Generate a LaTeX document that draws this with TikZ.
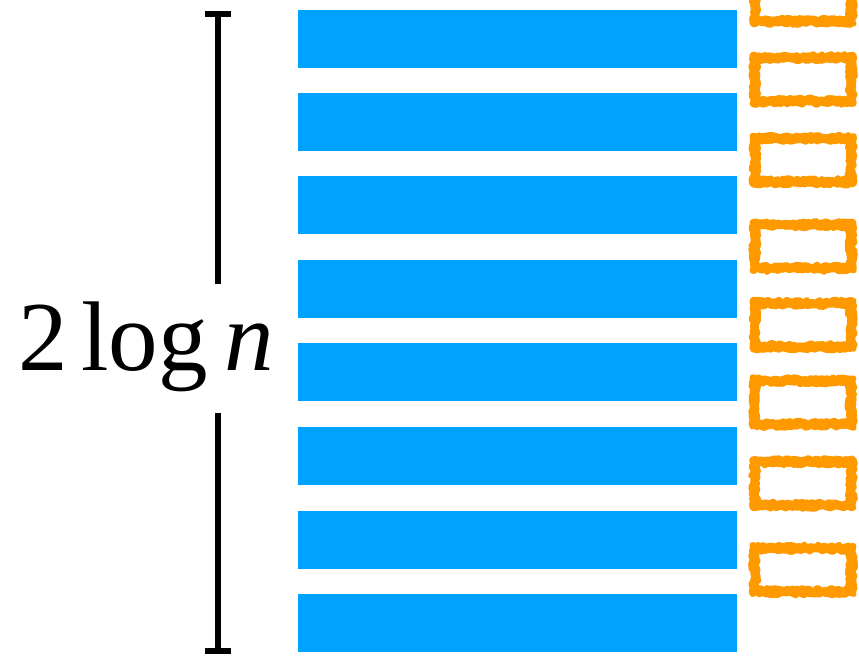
\documentclass[tikz,border=0pt]{standalone}
\usepackage{fontspec}
\setmainfont{Liberation Serif}
\usetikzlibrary{decorations.pathmorphing}
\definecolor{barblue}{RGB}{0,162,255}
\definecolor{orng}{RGB}{255,153,0}
\tikzset{
  bar/.style={fill=barblue, draw=none, inner sep=0pt, minimum width=439pt, minimum height=58pt, anchor=north west},
  slot/.style={draw=none, inner sep=0pt, minimum width=108pt, minimum height=55pt},
  roughstroke/.style={draw=orng, line width=5.5pt, line join=round, line cap=round, decorate, decoration={random steps, segment length=2.5pt, amplitude=1.4pt}},
  brace/.style={draw=black, line width=5.5pt}
}
\begin{document}
\begin{tikzpicture}[x=1pt,y=-1pt]
\useasboundingbox (0,0) rectangle (859,656);
\pgfmathsetseed{7}
% blue bars
\foreach \i/\t in {1/10,2/93,3/176,4/260,5/343,6/427,7/511,8/594}{
  \node[bar] (b\i) at (298,\t) {};
}
% orange rough boxes
\foreach \i/\c in {1/-0.5,2/79.5,3/160,4/246.5,5/325,6/402.5,7/483.5,8/570}{
  \node[slot] (o\i) at (803,\c) {};
  \foreach \d in {3.5,6,8.5}{
    \draw[roughstroke] ([xshift=\d pt,yshift=-\d pt]o\i.north west) rectangle ([xshift=-\d pt,yshift=\d pt]o\i.south east);
  }
}
% label
\node[anchor=base west, inner sep=0pt, font=\fontsize{99}{99}\selectfont] (lbl) at (18,370) {2\hspace{0.14em}log\hspace{0.17em}\textit{n}};
% bracket
\coordinate (top) at (218,14);
\coordinate (topend) at (218,284);
\coordinate (bot) at (218,651);
\coordinate (botend) at (218,413);
\draw[brace] (top) -- (topend);
\draw[brace] (botend) -- (bot);
\draw[brace] ([xshift=-13pt]top) -- ([xshift=13pt]top);
\draw[brace] ([xshift=-13pt]bot) -- ([xshift=13pt]bot);
\end{tikzpicture}
\end{document}
